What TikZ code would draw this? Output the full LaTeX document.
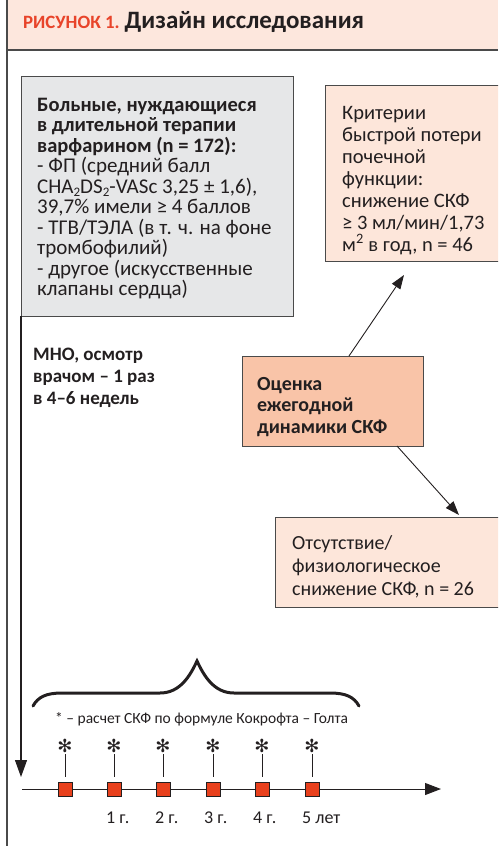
\documentclass[tikz,border=0pt]{standalone}
\usepackage{fontspec}
\setmainfont{Carlito}
\newfontfamily\djv{DejaVu Sans}
\usetikzlibrary{arrows.meta,calc}
\definecolor{hdr}{HTML}{FDE7DD}
\definecolor{redt}{HTML}{E8442A}
\definecolor{greyf}{HTML}{E6E7E8}
\definecolor{peach}{HTML}{FDE6DA}
\definecolor{salmon}{HTML}{F9C4A8}
\definecolor{ink}{HTML}{231F20}
\definecolor{framec}{HTML}{4A4A4A}
\definecolor{sqc}{HTML}{E8401C}
\newcommand\mysub[1]{\raisebox{-0.12em}{\fontsize{13}{13}\selectfont #1}}
\newcommand\gr{\fontsize{21}{20.5}\selectfont}
\begin{document}
\begin{tikzpicture}[x=1pt,y=-1pt,
  box/.style={draw=framec, line width=1.1pt, inner sep=0, anchor=north west},
  txt/.style={anchor=north west, inner sep=0, align=left, text=ink, font=\fontsize{20.5}{20.5}\selectfont},
  conn/.style={draw=ink, line width=0.9pt, -{Triangle[length=14pt,width=10pt]}},
  yr/.style={anchor=base west, inner sep=0, text=ink, font=\fontsize{18}{18}\selectfont},
  sqbox/.style={draw=ink, line width=0.9pt, fill=sqc, minimum size=14pt, inner sep=0},
  ast/.style={inner sep=0, text=ink, font=\djv\fontsize{18}{18}\selectfont}]
\useasboundingbox (0,0) rectangle (498,846);
\clip (0,0) rectangle (498,846);
% header and frame
\fill[hdr] (7,0) rectangle (498,50);
\draw[framec, line width=1.5pt] (7,50) -- (498,50);
\draw[framec, line width=1.5pt] (7,0) -- (7,846);
\node[anchor=base west, inner sep=0, text=ink] (title) at (23,28)
  {{\color{redt}\fontsize{18.8}{18.8}\selectfont\bfseries РИСУНОК 1.}\hspace{5pt}{\fontsize{25}{25}\selectfont\bfseries Дизайн исследования}};
% boxes
\node[box, fill=greyf, minimum width=272pt, minimum height=240pt] (g) at (21,76) {};
\node[box, fill=peach, minimum width=200pt, minimum height=176pt] (c) at (325,85) {};
\node[box, fill=salmon, minimum width=181pt, minimum height=90pt] (e) at (242,356) {};
\node[box, fill=peach, minimum width=250pt, minimum height=90pt] (a) at (275,517) {};
% texts
\node[txt] (gt) at (37,98) {\textbf{Больные, нуждающиеся}\\ \textbf{в длительной терапии}\\ \textbf{варфарином (n = 172):}\\ \gr - ФП (средний балл\\ \gr CHA\mysub{2}DS\mysub{2}-VASc 3,25 ± 1,6),\\ \gr 39,7\% имели ≥ 4 баллов\\ \gr - ТГВ/ТЭЛА (в т. ч. на фоне\\ \gr тромбофилий)\\ \gr - другое (искусственные\\ \gr клапаны сердца)};
\node[txt, font=\fontsize{20.5}{22}\selectfont] (ct) at (342,106) {Критерии\\ быстрой потери\\ почечной\\ функции:\\ снижение СКФ\\ ≥ 3 мл/мин/1,73\\ м\textsuperscript{2} в год, n = 46};
\node[txt, font=\fontsize{20}{21.5}\selectfont\bfseries] (et) at (257,377) {Оценка\\ ежегодной\\ динамики СКФ};
\node[txt, font=\fontsize{20}{23}\selectfont] (at) at (292,535) {Отсутствие/\\ физиологическое\\ снижение СКФ, n = 26};
\node[txt, font=\fontsize{19}{22}\selectfont\bfseries] (mt) at (33,348) {МНО, осмотр\\ врачом – 1 раз\\ в 4–6 недель};
% connectors
\coordinate (e1) at (349,356);
\coordinate (c1) at (404,275);
\coordinate (e2) at (397,446);
\coordinate (a1) at (459,515);
\draw[conn] (e1) -- (c1);
\draw[conn] (e2) -- (a1);
\coordinate (vtop) at (21,316);
\coordinate (vend) at (21,777);
\draw[draw=ink, line width=1.1pt, -{Triangle[length=17pt,width=12pt]}] (vtop) -- (vend);
\coordinate (t0) at (22,789);
\coordinate (t1) at (441,789);
\draw[draw=ink, line width=1pt, -{Triangle[length=16pt,width=12pt]}] (t0) -- (t1);
% brace
\draw[ink, line width=3pt, line cap=round, line join=miter]
  (33,706) .. controls (38,697) and (46,693) .. (62,693) -- (160,693)
  .. controls (180,693) and (190,676) .. (197,661)
  .. controls (204,676) and (214,693) .. (234,693) -- (330,693)
  .. controls (346,693) and (354,697) .. (359,706);
\node[anchor=base west, inner sep=0, text=ink, font=\fontsize{15.5}{15.5}\selectfont] (fn) at (55,723) {* – расчет СКФ по формуле Кокрофта – Голта};
% time points
\foreach \x [count=\i from 0] in {65,114,163,213,262,312}{
  \draw[ink, line width=0.9pt] (\x,754) -- (\x,777);
  \node[ast] (as\i) at (\x,746) {✻};
  \node[sqbox] (s\i) at (\x,789) {};
}
\node[yr] (y1) at (106,823) {1 г.};
\node[yr] (y2) at (155,823) {2 г.};
\node[yr] (y3) at (204,823) {3 г.};
\node[yr] (y4) at (253,823) {4 г.};
\node[yr] (y5) at (302,823) {5 лет};
\end{tikzpicture}
\end{document}
